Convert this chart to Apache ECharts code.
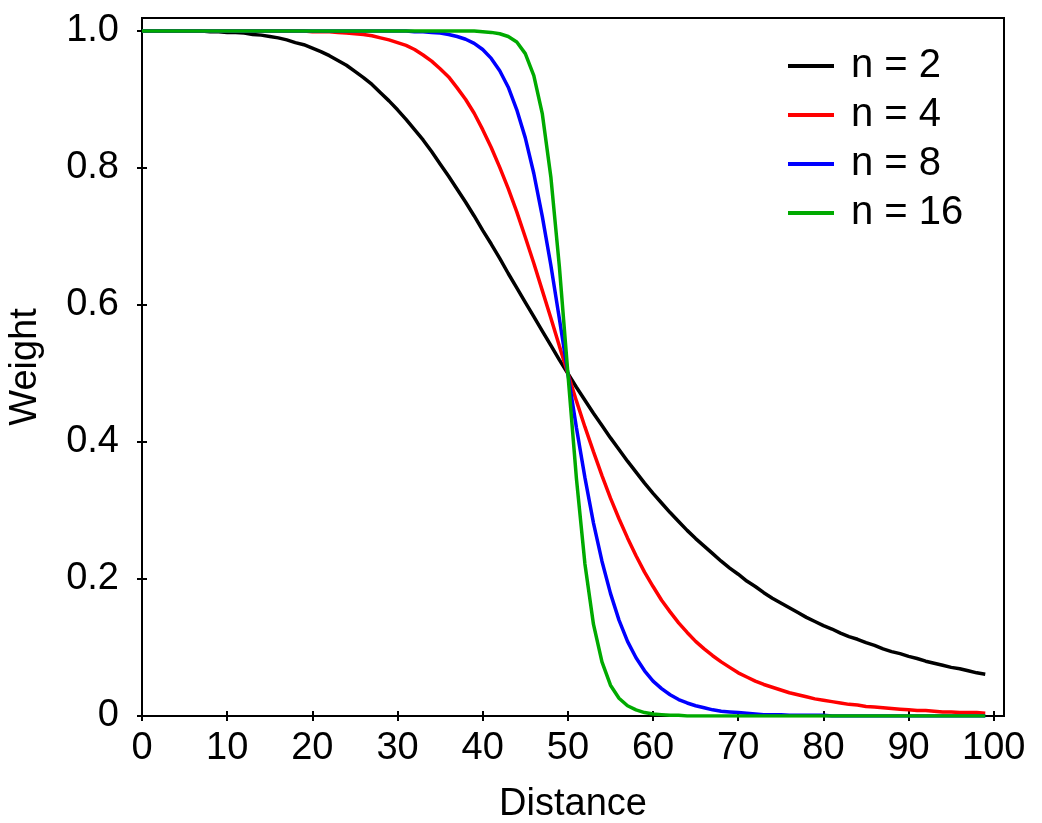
<!DOCTYPE html>
<html>
<head>
<meta charset="utf-8">
<script src="https://cdn.jsdelivr.net/npm/echarts@6/dist/echarts.min.js"></script>
<style>
  html, body { margin: 0; padding: 0; background: #fff; }
  #main { width: 1042px; height: 823px; }
</style>
</head>
<body>
<div id="main"></div>
<script>
// values
const distance = [
  0, 1, 2, 3, 4, 5, 6, 7, 8, 9,
  10, 11, 12, 13, 14, 15, 16, 17, 18, 19,
  20, 21, 22, 23, 24, 25, 26, 27, 28, 29,
  30, 31, 32, 33, 34, 35, 36, 37, 38, 39,
  40, 41, 42, 43, 44, 45, 46, 47, 48, 49,
  50, 51, 52, 53, 54, 55, 56, 57, 58, 59,
  60, 61, 62, 63, 64, 65, 66, 67, 68, 69,
  70, 71, 72, 73, 74, 75, 76, 77, 78, 79,
  80, 81, 82, 83, 84, 85, 86, 87, 88, 89,
  90, 91, 92, 93, 94, 95, 96, 97, 98, 99
];
const weightN2 = [
  1.000, 1.000, 1.000, 1.000, 1.000, 1.000, 1.000, 1.000, 0.999, 0.999,
  0.998, 0.998, 0.997, 0.995, 0.994, 0.992, 0.990, 0.987, 0.983, 0.980,
  0.975, 0.970, 0.964, 0.957, 0.950, 0.941, 0.932, 0.922, 0.910, 0.898,
  0.885, 0.871, 0.856, 0.841, 0.824, 0.806, 0.788, 0.769, 0.750, 0.730,
  0.709, 0.689, 0.668, 0.646, 0.625, 0.604, 0.583, 0.562, 0.541, 0.520,
  0.500, 0.480, 0.461, 0.442, 0.424, 0.406, 0.389, 0.372, 0.356, 0.340,
  0.325, 0.311, 0.297, 0.284, 0.271, 0.259, 0.248, 0.237, 0.226, 0.216,
  0.207, 0.197, 0.189, 0.180, 0.172, 0.165, 0.158, 0.151, 0.144, 0.138,
  0.132, 0.127, 0.121, 0.116, 0.112, 0.107, 0.103, 0.098, 0.094, 0.091,
  0.087, 0.084, 0.080, 0.077, 0.074, 0.071, 0.069, 0.066, 0.063, 0.061
];
const weightN4 = [
  1.000, 1.000, 1.000, 1.000, 1.000, 1.000, 1.000, 1.000, 1.000, 1.000,
  1.000, 1.000, 1.000, 1.000, 1.000, 1.000, 1.000, 1.000, 1.000, 1.000,
  0.999, 0.999, 0.999, 0.998, 0.997, 0.996, 0.995, 0.993, 0.990, 0.987,
  0.983, 0.979, 0.973, 0.965, 0.956, 0.945, 0.933, 0.917, 0.900, 0.880,
  0.856, 0.830, 0.801, 0.770, 0.736, 0.699, 0.661, 0.621, 0.581, 0.540,
  0.500, 0.460, 0.422, 0.386, 0.351, 0.318, 0.288, 0.260, 0.234, 0.210,
  0.189, 0.169, 0.152, 0.136, 0.122, 0.109, 0.098, 0.088, 0.079, 0.071,
  0.063, 0.057, 0.051, 0.046, 0.042, 0.038, 0.034, 0.031, 0.028, 0.025,
  0.023, 0.021, 0.019, 0.017, 0.016, 0.014, 0.013, 0.012, 0.011, 0.010,
  0.009, 0.008, 0.008, 0.007, 0.006, 0.006, 0.005, 0.005, 0.005, 0.004
];
const weightN8 = [
  1.000, 1.000, 1.000, 1.000, 1.000, 1.000, 1.000, 1.000, 1.000, 1.000,
  1.000, 1.000, 1.000, 1.000, 1.000, 1.000, 1.000, 1.000, 1.000, 1.000,
  1.000, 1.000, 1.000, 1.000, 1.000, 1.000, 1.000, 1.000, 1.000, 1.000,
  1.000, 1.000, 0.999, 0.999, 0.998, 0.997, 0.995, 0.992, 0.988, 0.982,
  0.973, 0.960, 0.942, 0.918, 0.885, 0.844, 0.792, 0.729, 0.658, 0.580,
  0.500, 0.421, 0.348, 0.282, 0.226, 0.179, 0.140, 0.109, 0.085, 0.066,
  0.051, 0.040, 0.031, 0.024, 0.019, 0.015, 0.012, 0.009, 0.007, 0.006,
  0.005, 0.004, 0.003, 0.002, 0.002, 0.002, 0.001, 0.001, 0.001, 0.001,
  0.001, 0.000, 0.000, 0.000, 0.000, 0.000, 0.000, 0.000, 0.000, 0.000,
  0.000, 0.000, 0.000, 0.000, 0.000, 0.000, 0.000, 0.000, 0.000, 0.000
];
const weightN16 = [
  1.000, 1.000, 1.000, 1.000, 1.000, 1.000, 1.000, 1.000, 1.000, 1.000,
  1.000, 1.000, 1.000, 1.000, 1.000, 1.000, 1.000, 1.000, 1.000, 1.000,
  1.000, 1.000, 1.000, 1.000, 1.000, 1.000, 1.000, 1.000, 1.000, 1.000,
  1.000, 1.000, 1.000, 1.000, 1.000, 1.000, 1.000, 1.000, 1.000, 1.000,
  0.999, 0.998, 0.996, 0.992, 0.984, 0.967, 0.935, 0.879, 0.787, 0.656,
  0.500, 0.347, 0.222, 0.134, 0.079, 0.045, 0.026, 0.015, 0.009, 0.005,
  0.003, 0.002, 0.001, 0.001, 0.000, 0.000, 0.000, 0.000, 0.000, 0.000,
  0.000, 0.000, 0.000, 0.000, 0.000, 0.000, 0.000, 0.000, 0.000, 0.000,
  0.000, 0.000, 0.000, 0.000, 0.000, 0.000, 0.000, 0.000, 0.000, 0.000,
  0.000, 0.000, 0.000, 0.000, 0.000, 0.000, 0.000, 0.000, 0.000, 0.000
];
const seriesNames = ['n = 2', 'n = 4', 'n = 8', 'n = 16'];
const xTicks = [0, 10, 20, 30, 40, 50, 60, 70, 80, 90, 100];
const yTicks = [0, 0.2, 0.4, 0.6, 0.8, 1.0];

const FONT = 'Liberation Sans';
const colors = ['#000000', '#ff0000', '#0000ff', '#00aa00'];
const weights = [weightN2, weightN4, weightN8, weightN16];

const myChart = echarts.init(document.getElementById('main'));

const xMax = 101.2;
const yMax = 1.019;

const option = {
  animation: false,
  backgroundColor: '#fff',
  grid: {
    left: 142,
    right: 38,
    top: 18,
    bottom: 107,
    outerBoundsMode: 'none',
    containLabel: false,
    show: true,
    borderColor: '#000',
    borderWidth: 2,
  },
  legend: {
    data: seriesNames,
    orient: 'vertical',
    left: 783,
    top: 41,
    icon: 'rect',
    itemWidth: 46,
    itemHeight: 4,
    itemGap: 9,
    textStyle: {
      fontFamily: FONT,
      fontSize: 40,
      lineHeight: 40,
      color: '#000',
      padding: [0, 0, 0, 12],
    },
  },
  xAxis: [{
    type: 'value',
    min: 0,
    max: xMax,
    name: 'Distance',
    nameLocation: 'middle',
    nameGap: 70,
    nameTextStyle: { fontFamily: FONT, fontSize: 38, color: '#000' },
    axisLine: { show: true, lineStyle: { color: '#000', width: 2 } },
    axisTick: { show: true, length: 5, customValues: xTicks, lineStyle: { color: '#000', width: 2 } },
    axisLabel: {
      customValues: xTicks,
      fontFamily: FONT,
      fontSize: 38,
      color: '#000',
      margin: 14,
    },
    splitLine: { show: false },
  }, {
    // inner half of the crossing ticks
    type: 'value',
    min: 0,
    max: xMax,
    position: 'bottom',
    axisLine: { show: false },
    axisTick: { show: true, inside: true, length: 5, customValues: xTicks, lineStyle: { color: '#000', width: 2 } },
    axisLabel: { show: false },
    splitLine: { show: false },
  }],
  yAxis: [{
    type: 'value',
    min: 0,
    max: yMax,
    name: 'Weight',
    nameLocation: 'middle',
    nameGap: 97,
    nameTextStyle: { fontFamily: FONT, fontSize: 38, color: '#000' },
    axisLine: { show: true, lineStyle: { color: '#000', width: 2 } },
    axisTick: { show: true, length: 5, customValues: yTicks, lineStyle: { color: '#000', width: 2 } },
    axisLabel: {
      customValues: yTicks,
      fontFamily: FONT,
      fontSize: 38,
      color: '#000',
      margin: 23,
      formatter: function (v) {
        return v === 0 ? '0' : v.toFixed(1);
      },
    },
    splitLine: { show: false },
  }, {
    type: 'value',
    min: 0,
    max: yMax,
    position: 'left',
    axisLine: { show: false },
    axisTick: { show: true, inside: true, length: 5, customValues: yTicks, lineStyle: { color: '#000', width: 2 } },
    axisLabel: { show: false },
    splitLine: { show: false },
  }],
  series: seriesNames.map(function (name, k) {
    return {
      name: name,
      type: 'line',
      xAxisIndex: 0,
      yAxisIndex: 0,
      symbol: 'none',
      color: colors[k],
      lineStyle: { color: colors[k], width: 3.5 },
      data: distance.map(function (d, i) { return [d, weights[k][i]]; }),
    };
  }),
};

myChart.setOption(option);
</script>
</body>
</html>
